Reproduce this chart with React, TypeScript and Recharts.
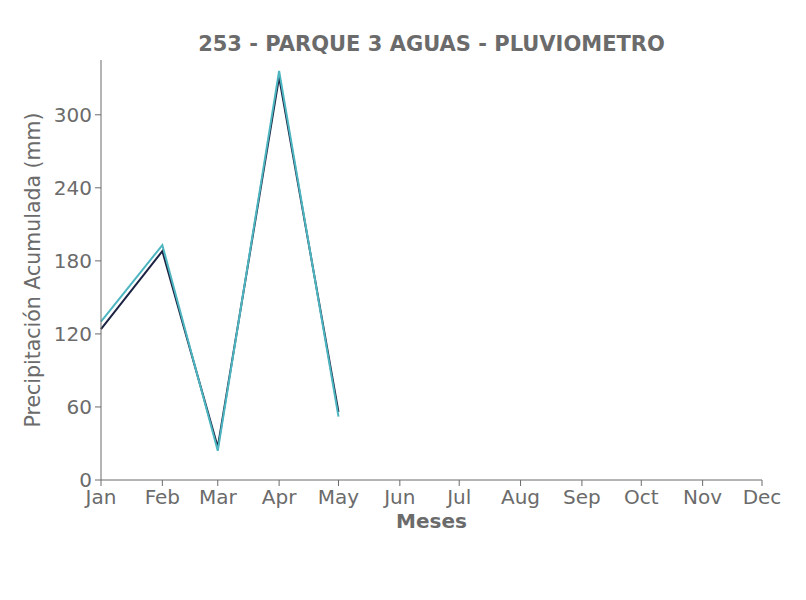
import React from 'react';
import { LineChart, Line, XAxis, YAxis, Label } from 'recharts';

// month labels and their day-of-year offsets (the x axis is a date axis)
const monthLabels = ['Jan', 'Feb', 'Mar', 'Apr', 'May', 'Jun', 'Jul', 'Aug', 'Sep', 'Oct', 'Nov', 'Dec'];
const monthDays = [0, 31, 59, 90, 120, 151, 181, 212, 243, 273, 304, 334];

// accumulated rainfall, Jan..May
const seriesDark = [124, 188, 27, 331, 56];
const seriesTeal = [130, 193, 24, 336, 52];

const yTicks = [0, 60, 120, 180, 240, 300];

const GRAY = '#6b6b6b';
const FONT = '"DejaVu Sans", sans-serif';

const data = seriesDark.map((v, i) => ({
  day: monthDays[i],
  dark: v,
  teal: seriesTeal[i],
}));

const monthTick = (d: number) => monthLabels[monthDays.indexOf(d)] ?? '';

const App: React.FC = () => {
  return (
    <div style={{ margin: -8, width: 806, height: 600, position: 'relative', background: '#fff', fontFamily: FONT }}>
      <div
        style={{
          position: 'absolute',
          top: 31,
          left: 101,
          width: 661,
          textAlign: 'center',
          color: GRAY,
          fontWeight: 'bold',
          fontSize: 21,
          lineHeight: '26px',
        }}
      >
        253 - PARQUE 3 AGUAS - PLUVIOMETRO
      </div>
      <LineChart width={806} height={600} data={data} margin={{ top: 60, right: 44, bottom: 0, left: 0 }}>
        <XAxis
          dataKey="day"
          type="number"
          domain={[0, 334]}
          ticks={monthDays}
          tickFormatter={monthTick}
          interval={0}
          tick={{ fill: GRAY, fontSize: 20, fontFamily: FONT }}
          tickSize={6}
          tickMargin={4}
          stroke={GRAY}
          height={120}
        >
          <Label value="Meses" position="insideTop" offset={34} style={{ fill: GRAY, fontWeight: 'bold', fontSize: 20, fontFamily: FONT }} />
        </XAxis>
        <YAxis
          type="number"
          domain={[0, 345]}
          ticks={yTicks}
          interval={0}
          tick={{ fill: GRAY, fontSize: 20, fontFamily: FONT }}
          tickSize={6}
          tickMargin={3}
          stroke={GRAY}
          width={101}
        >
          <Label
            value="Precipitación Acumulada (mm)"
            angle={-90}
            position="insideLeft"
            offset={33}
            style={{ fill: GRAY, fontSize: 20.5, fontFamily: FONT, textAnchor: 'middle' }}
          />
        </YAxis>
        <Line type="linear" dataKey="dark" stroke="#1c2342" strokeWidth={2} dot={false} isAnimationActive={false} />
        <Line type="linear" dataKey="teal" stroke="#4db6c1" strokeWidth={2} dot={false} isAnimationActive={false} />
      </LineChart>
    </div>
  );
};

export default App;
